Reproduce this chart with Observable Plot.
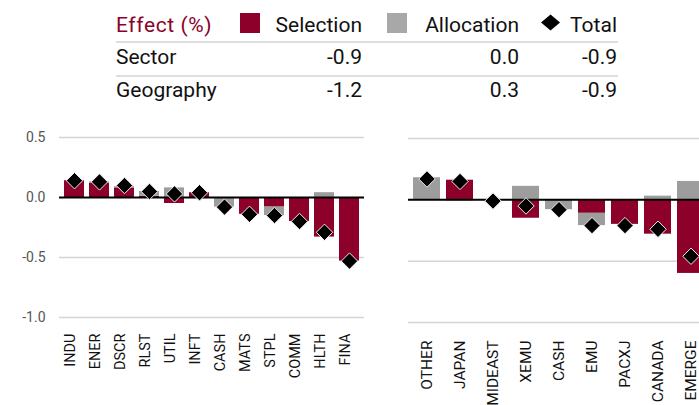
<!DOCTYPE html>
<html><head><meta charset="utf-8">
<script src="https://cdn.jsdelivr.net/npm/d3@7"></script>
<script src="https://cdn.jsdelivr.net/npm/@observablehq/plot@0.6"></script>
<style>
html,body{margin:0;padding:0;background:#fff;overflow:hidden;width:699px;height:405px}
#wrap{position:relative;width:699px;height:405px;overflow:hidden;font-family:Roboto,sans-serif}
#header{position:absolute;left:0;top:0}
#left{position:absolute;left:0;top:110px;width:370px}
#right{position:absolute;left:400px;top:110px;width:310px}
#left svg,#right svg{max-width:none !important}
</style></head><body><div id="wrap"><svg id="header" width="699" height="110"></svg><div id="left"></div><div id="right"></div></div>
<script>
// ---- data ----
const sectors = ["INDU","ENER","DSCR","RLST","UTIL","INFT","CASH","MATS","STPL","COMM","HLTH","FINA"];
const sectorSelection  = [0.14, 0.12, 0.08, 0.01, -0.05, 0.04, 0.00, -0.14, -0.08, -0.20, -0.33, -0.53];
const sectorAllocation = [0.00, 0.01, 0.01, 0.04, 0.08, 0.00, -0.08, 0.00, -0.07, 0.00, 0.04, 0.00];
const sectorTotal      = [0.14, 0.13, 0.10, 0.05, 0.03, 0.04, -0.08, -0.14, -0.15, -0.20, -0.29, -0.53];

const regions = ["OTHER","JAPAN","MIDEAST","XEMU","CASH","EMU","PACXJ","CANADA","EMERGE"];
const regionSelection  = [0.00, 0.16, 0.00, -0.15, 0.00, -0.11, -0.20, -0.28, -0.60];
const regionAllocation = [0.18, -0.01, 0.00, 0.11, -0.08, -0.10, 0.00, 0.03, 0.15];
const regionTotal      = [0.17, 0.15, -0.01, -0.05, -0.08, -0.21, -0.21, -0.24, -0.46];

const yTicks = [0.5, 0.0, -0.5, -1.0];

const tableTitle = "Effect (%)";
const legendNames = ["Selection", "Allocation", "Total"];
const tableRows = ["Sector", "Geography"];
const tableSelection = [-0.9, -1.2];
const tableAllocation = [0.0, 0.3];
const tableTotal = [-0.9, -0.9];

const RED = "#8c0029";
const GRAY = "#9d9d9d";
const FONT = "Roboto, sans-serif";

// ---- header table / legend ----
const hdr = d3.select("#header").style("font-family", FONT);
const colRight = [362, 519, 617];
hdr.append("text").attr("x", 116).attr("y", 32).attr("font-size", 21).attr("letter-spacing", 0.6).attr("fill", RED).text(tableTitle);
hdr.append("rect").attr("x", 240).attr("y", 13).attr("width", 20).attr("height", 20).attr("fill", RED);
hdr.append("rect").attr("x", 387).attr("y", 13).attr("width", 20).attr("height", 20).attr("fill", "#a8a8a8");
hdr.append("path").attr("d", "M550.5,14.5 L560,22.5 L550.5,30.5 L541,22.5 Z").attr("fill", "#000");
legendNames.forEach((n, i) => {
  hdr.append("text").attr("x", colRight[i]).attr("y", 32).attr("text-anchor", "end")
    .attr("font-size", 21).attr("fill", "#111").text(n);
});
[42, 76].forEach(y => hdr.append("line").attr("x1", 116).attr("x2", 618).attr("y1", y).attr("y2", y)
  .attr("stroke", "#dedede").attr("stroke-width", 2));
const rowBase = [64, 97];
tableRows.forEach((r, i) => {
  hdr.append("text").attr("x", 116).attr("y", rowBase[i]).attr("font-size", 21).attr("fill", "#111").text(r);
  [tableSelection[i], tableAllocation[i], tableTotal[i]].forEach((v, j) => {
    hdr.append("text").attr("x", colRight[j]).attr("y", rowBase[i]).attr("text-anchor", "end")
      .attr("font-size", 21).attr("fill", "#111").text(v.toFixed(1));
  });
});

// ---- charts ----
function chart(o) {
  const long = [];
  o.cats.forEach((c, i) => {
    long.push({cat: c, type: "Selection", value: o.sel[i]});
    long.push({cat: c, type: "Allocation", value: o.alloc[i]});
  });
  const totals = o.cats.map((c, i) => ({cat: c, value: o.tot[i]}));
  return Plot.plot({
    width: o.width, height: o.height,
    marginLeft: o.marginLeft, marginRight: o.marginRight,
    marginTop: o.marginTop, marginBottom: o.marginBottom,
    style: {fontFamily: FONT, background: "transparent", overflow: "visible", maxWidth: "none"},
    x: {domain: o.cats, paddingInner: o.paddingInner, paddingOuter: 0.1, label: null},
    y: {domain: [-1, 0.5], label: null, axis: o.showY ? undefined : null},
    color: {domain: ["Selection", "Allocation"], range: [RED, GRAY]},
    marks: [
      Plot.ruleY(yTicks.filter(d => d !== 0), {stroke: "#d4d4d4", strokeWidth: 1.5}),
      o.showY ? Plot.axisY(yTicks, {tickSize: 0, tickPadding: 14, tickFormat: d => d.toFixed(1), fontSize: 14, fill: "#555", label: null}) : null,
      Plot.barY(long, {x: "cat", y: "value", fill: "type", order: ["Selection", "Allocation"]}),
      Plot.ruleY([0], {stroke: "#000", strokeWidth: 2}),
      Plot.dot(totals, {x: "cat", y: "value", symbol: "diamond2", r: 7.4, fill: "#000", stroke: "#eee", strokeWidth: 1}),
      Plot.axisX({tickRotate: -90, tickSize: 0, tickPadding: o.labelPad, textAnchor: "end", lineAnchor: o.lineAnchor, fontSize: o.fontSize, fill: "#111", label: null})
    ]
  });
}

document.getElementById("left").append(chart({
  cats: sectors, sel: sectorSelection, alloc: sectorAllocation, tot: sectorTotal,
  width: 370, height: 295, marginLeft: 59, marginRight: 6, marginTop: 27, marginBottom: 88,
  paddingInner: 0.2, showY: true, labelPad: 16, lineAnchor: "bottom", fontSize: 14.5
}));
document.getElementById("right").append(chart({
  cats: regions, sel: regionSelection, alloc: regionAllocation, tot: regionTotal,
  width: 310, height: 295, marginLeft: 8, marginRight: 0.5, marginTop: 28, marginBottom: 83,
  paddingInner: 0.19, showY: false, labelPad: 18, lineAnchor: "middle", fontSize: 15.5
}));
</script></body></html>
